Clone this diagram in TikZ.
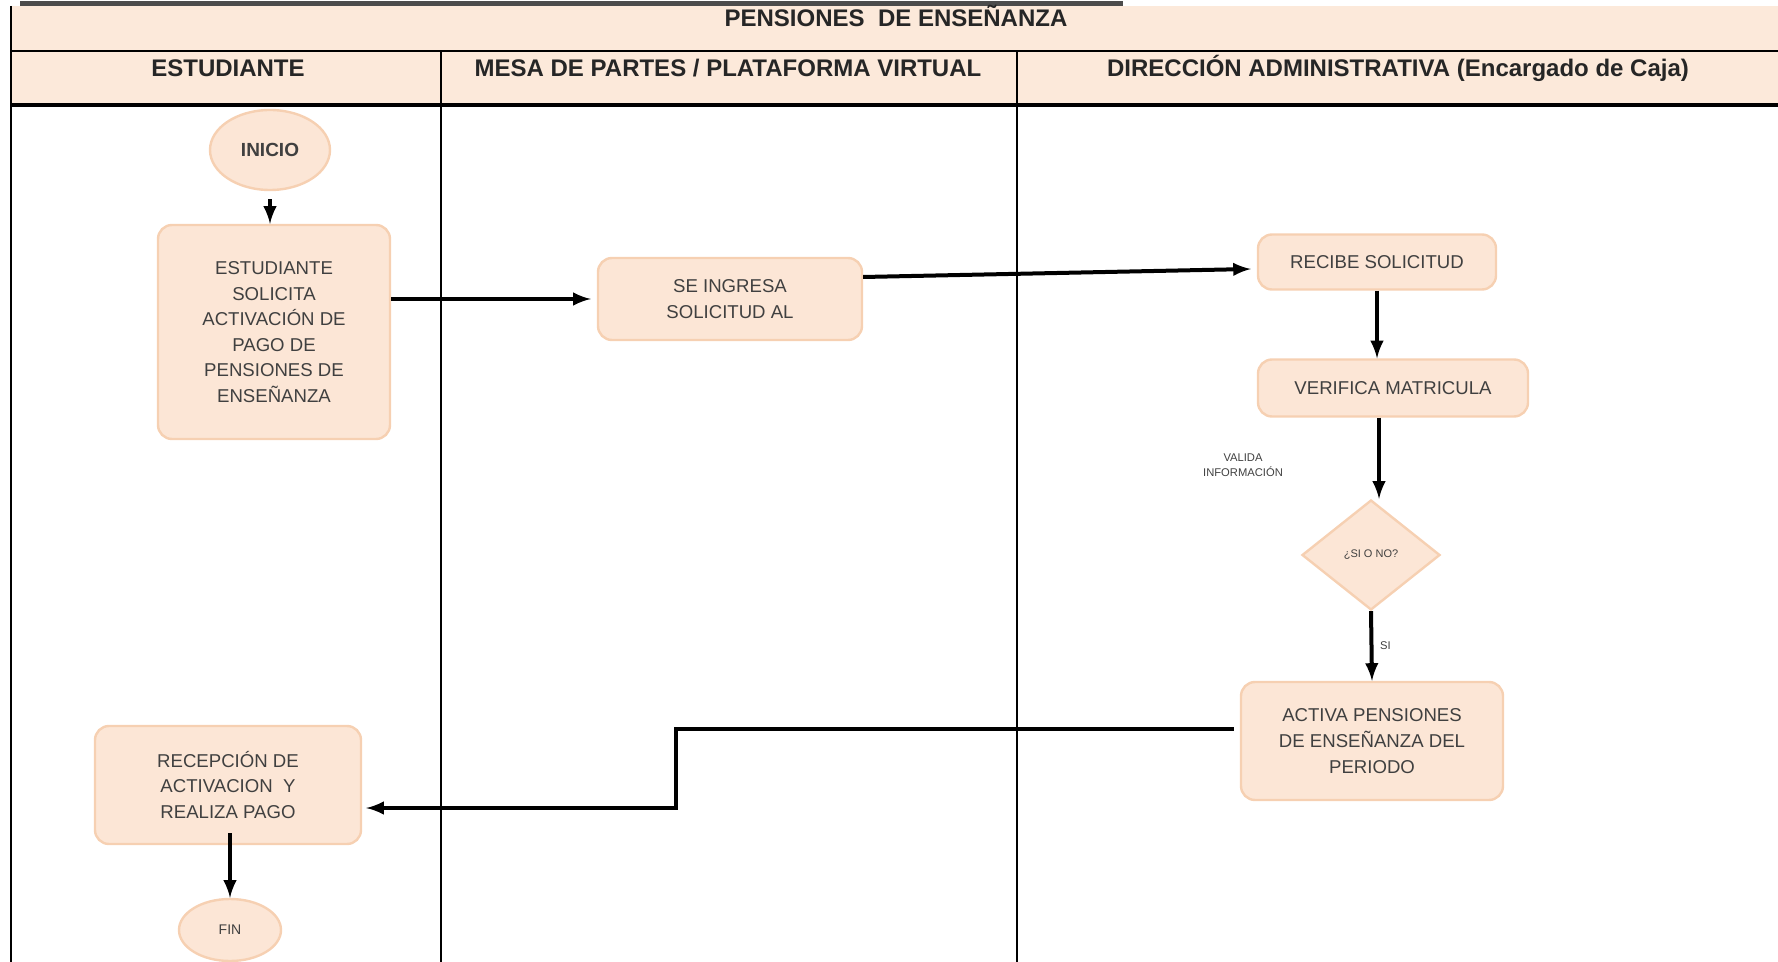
\documentclass[tikz,border=0pt]{standalone}
\usepackage{fontspec}
\setmainfont{Liberation Sans}
\usetikzlibrary{arrows,shapes.geometric,positioning}
\definecolor{bandfill}{RGB}{252,233,218}
\definecolor{boxfill}{RGB}{252,230,214}
\definecolor{boxline}{RGB}{246,208,178}
\definecolor{ink}{RGB}{64,64,64}

\begin{document}
\begin{tikzpicture}[x=0.5pt,y=-0.5pt,
    proc/.style={rectangle,rounded corners=7pt,draw=boxline,fill=boxfill,line width=1.2pt,
      text=ink,align=center,font=\fontsize{9.3}{12.8}\selectfont,inner sep=2pt},
    term/.style={ellipse,draw=boxline,fill=boxfill,line width=1.2pt,text=ink,inner sep=0pt},
    choice/.style={diamond,draw=boxline,fill=boxfill,line width=1.2pt,text=ink,inner sep=0pt,
      font=\fontsize{5.5}{6}\selectfont},
    flow/.style={->,>=latex,line width=2pt},
    head/.style={anchor=base,font=\bfseries\fontsize{12}{14}\selectfont,text=black!85},
    note/.style={font=\fontsize{5.6}{7.5}\selectfont,text=ink,align=center}]
    \useasboundingbox (0,0) rectangle (1778,962);

    % bandas de cabecera y carriles
    \fill[bandfill] (11,6) rectangle (1778,105);
    \draw[line width=2.5pt,black!70] (20,4) -- (1123,4);
    \draw[line width=1.2pt] (11,6) -- (11,962);
    \draw[line width=1.2pt] (11,51) -- (1778,51);
    \draw[line width=1.6pt] (11,105) -- (1778,105);
    \draw[line width=1.2pt] (441,51) -- (441,962);
    \draw[line width=1.2pt] (1017,51) -- (1017,962);

    \node[head] (titulo) at (896,27) {PENSIONES \ DE ENSEÑANZA};
    \node[head] (estudiante) at (228,77) {ESTUDIANTE};
    \node[head] (mesa) at (728,77) {MESA DE PARTES / PLATAFORMA VIRTUAL};
    \node[head] (direccion) at (1398,77) {DIRECCIÓN ADMINISTRATIVA (Encargado de Caja)};

    % pasos
    \node[term,minimum width=60pt,minimum height=40pt,font=\bfseries\fontsize{9.5}{11}\selectfont]
      (inicio) at (270,150) {INICIO};
    \node[proc,minimum width=116pt,minimum height=107pt] (solicita) at (274,332)
      {ESTUDIANTE\\SOLICITA\\ACTIVACIÓN DE\\PAGO DE\\PENSIONES DE\\ENSEÑANZA};
    \node[proc,minimum width=132pt,minimum height=41pt] (ingresa) at (730,299)
      {SE INGRESA\\SOLICITUD AL};
    \node[proc,minimum width=119pt,minimum height=27.5pt] (recibe) at (1377,262) {RECIBE SOLICITUD};
    \node[proc,minimum width=135pt,minimum height=28.5pt] (verifica) at (1393,388) {VERIFICA MATRICULA};
    \node[note] (valida) at (1243,465) {VALIDA\\INFORMACIÓN};
    \node[choice,minimum width=69pt,minimum height=55pt] (decision) at (1371,555) {¿SI O NO?};
    \node[proc,minimum width=131pt,minimum height=59pt] (activa) at (1372,741)
      {ACTIVA PENSIONES\\DE ENSEÑANZA DEL\\PERIODO};
    \node[proc,minimum width=133pt,minimum height=59pt] (recepcion) at (228,785)
      {RECEPCIÓN DE\\ACTIVACION~~Y\\REALIZA PAGO};
    \node[term,minimum width=51pt,minimum height=31pt,font=\fontsize{7}{8}\selectfont]
      (fin) at (230,930) {FIN};
    \coordinate (codo) at (676,770);

    % flujo
    \draw[flow,shorten <=4pt] (inicio.south) -- (inicio.south |- solicita.north);
    \draw[flow] (solicita.east |- ingresa.west) -- ([xshift=-3pt]ingresa.west);
    \draw[flow] ([yshift=11pt]ingresa.east) -- ([xshift=-3pt,yshift=-3.5pt]recibe.west);
    \draw[flow] (recibe.south) -- (recibe.south |- verifica.north);
    \draw[flow] ([xshift=4pt]decision.north |- verifica.south) -- ([xshift=4pt]decision.north);
    \draw[flow] (decision.south) -- node[right,note] {SI} (activa.north);
    \draw[flow] ([xshift=-3pt,yshift=6pt]activa.west) -| (codo) |- ([xshift=2pt,yshift=-11.5pt]recepcion.east);
    \draw[flow] ([yshift=6pt]fin.north |- recepcion.south) -- (fin.north);
\end{tikzpicture}
\end{document}
